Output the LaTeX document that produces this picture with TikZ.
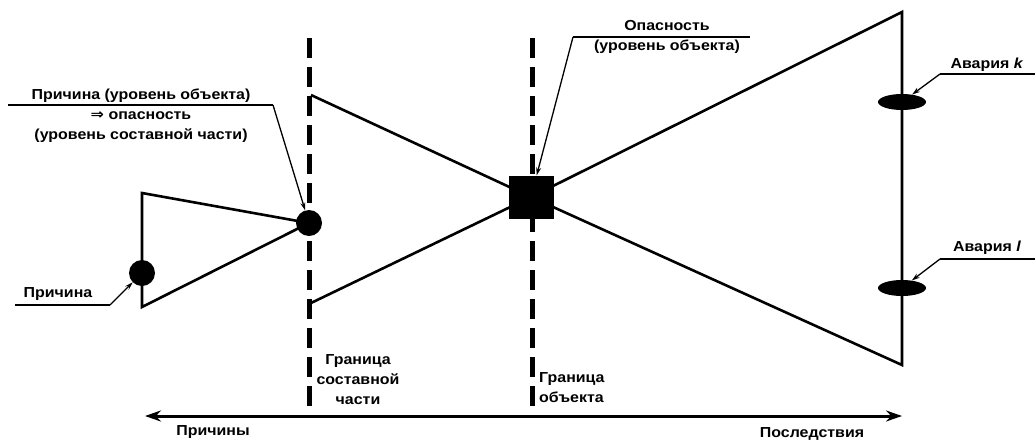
\documentclass[tikz,border=0pt]{standalone}
\usepackage{fontspec}
\setmainfont[FakeStretch=1.1]{Liberation Sans}
\newfontfamily\symfont[FakeStretch=1.1]{DejaVu Sans}
\usetikzlibrary{arrows.meta,shapes.geometric,backgrounds}
\begin{document}
\begin{tikzpicture}[x=1pt,y=-1pt,
  edge/.style={line width=2.6pt, line join=miter},
  bound/.style={line width=5pt, dash pattern=on 20pt off 9pt},
  lead/.style={line width=1.3pt},
  leadarr/.style={line width=1.3pt,-{Stealth[length=8pt,width=5pt]}},
  lbl/.style={font=\bfseries\fontsize{14.5}{20}\selectfont, inner sep=0pt, align=center},
  dot/.style={circle, fill=black, minimum size=26pt, inner sep=0pt},
  ell/.style={ellipse, fill=black, minimum width=48pt, minimum height=16pt, inner sep=0pt},
  sq/.style={fill=black, minimum width=45pt, minimum height=43pt, inner sep=0pt},
  axis/.style={line width=3pt, {Stealth[length=16pt,width=11pt]}-{Stealth[length=16pt,width=11pt]}}
]
\useasboundingbox (0,0) rectangle (1035,442);

% main nodes
\node[dot] (cause) at (142,273) {};
\node[dot] (hc) at (309,223) {};
\node[sq] (haz) at (531,197) {};
\node[ell] (ak) at (902,102) {};
\node[ell] (al) at (902,288) {};

% corner coordinates
\coordinate (tl) at (142,193);
\coordinate (bl) at (142,307);
\coordinate (btop) at (311,95);
\coordinate (bbot) at (311,303);
\coordinate (rt) at (902,12);
\coordinate (rb) at (902,365);

\begin{pgfonlayer}{background}
  \draw[edge] (hc.center) -- (tl) -- (bl) -- cycle;
  \draw[edge] (btop) -- (haz.center) -- (bbot);
  \draw[edge] (haz.center) -- (rt) -- (rb) -- cycle;
\end{pgfonlayer}

% boundaries
\draw[bound] (309,38) -- (309,412);
\draw[bound] (532,38) -- (532,412);

% labels with leaders
\node[lbl] (tcause) at (58,294) {Причина};
\coordinate (c1) at (15,305);
\coordinate (c2) at (110,305);
\draw[lead] (c1) -- (c2);
\draw[leadarr] (c2) -- (cause);

\node[lbl] (thc) at (141,116) {Причина (уровень объекта)\\{\symfont\bfseries ⇒} опасность\\(уровень составной части)};
\coordinate (h1) at (8,105);
\coordinate (h2) at (273,105);
\draw[lead] (h1) -- (h2);
\draw[leadarr] (h2) -- (hc);

\node[lbl] (thaz) at (667,37) {Опасность\\(уровень объекта)};
\coordinate (o1) at (573,37);
\coordinate (o2) at (750,37);
\draw[lead] (o1) -- (o2);
\draw[leadarr] (o1) -- (haz);

\node[lbl] (tak) at (987,65) {Авария \textit{k}};
\coordinate (k1) at (1035,74);
\coordinate (k2) at (940,74);
\draw[lead] (k1) -- (k2);
\draw[leadarr] (k2) -- (ak);

\node[lbl] (tal) at (987,248) {Авария \textit{l}};
\coordinate (l1) at (1035,259);
\coordinate (l2) at (940,259);
\draw[lead] (l1) -- (l2);
\draw[leadarr] (l2) -- (al);

% axis
\coordinate (pl) at (145,416);
\coordinate (pr) at (902,416);
\draw[axis] (pl) -- (pr);
\node[lbl] (tcauses) at (213,432) {Причины};
\node[lbl] (tcons) at (812,434) {Последствия};

\node[lbl] (tb1) at (358,380) {Граница\\составной\\части};
\node[lbl, anchor=west, align=left] (tb2) at (539,388) {Граница\\объекта};
\end{tikzpicture}
\end{document}
